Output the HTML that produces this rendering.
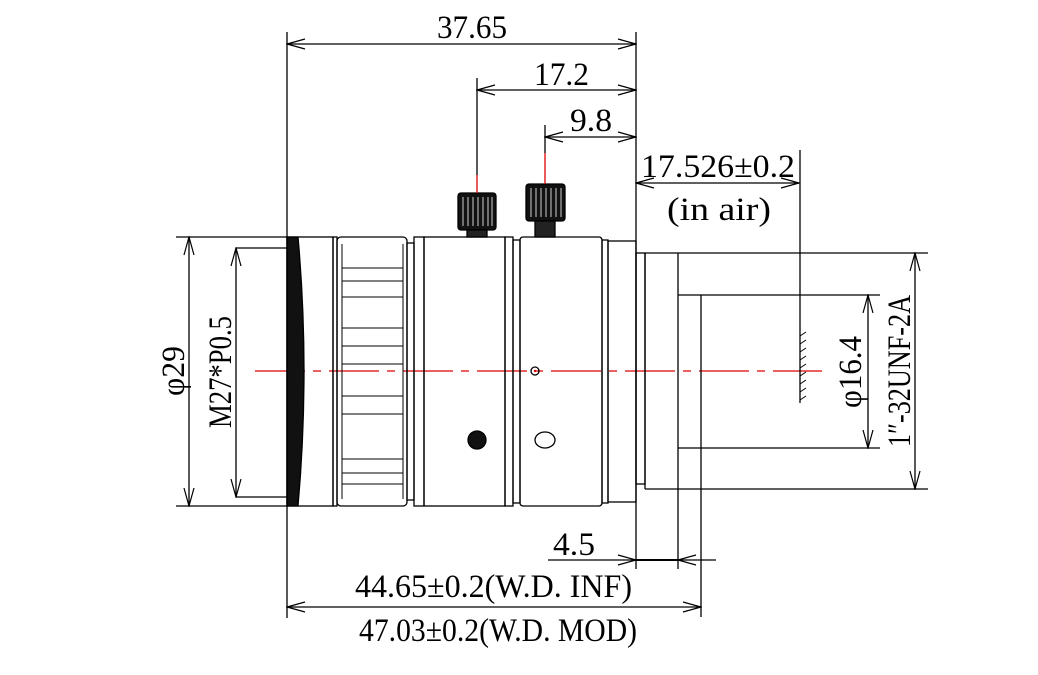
<!DOCTYPE html>
<html><head><meta charset="utf-8"><style>html,body{margin:0;padding:0;background:#fff}svg{display:block}</style></head>
<body>
<svg width="1038" height="675" viewBox="0 0 1038 675" xmlns="http://www.w3.org/2000/svg" font-family="'Liberation Serif', serif" fill="none" stroke="#000" stroke-width="1.3">
<defs>
<marker id="a" markerWidth="20" markerHeight="12" refX="19" refY="6" orient="auto-start-reverse" markerUnits="userSpaceOnUse"><path d="M1,1 L19,6 L1,11" fill="none" stroke="#000" stroke-width="1.2"/></marker>
</defs>
<!-- centerline -->
<line x1="255" y1="371" x2="822" y2="371" stroke="#d00" stroke-dasharray="50,8,8,8" stroke-width="1.2"/>
<!-- front lens -->
<rect x="287" y="237" width="46" height="269"/>
<path d="M287,237 L298,237 Q310,371 298,506 L287,506 Z" fill="#111" stroke="#000"/>
<line x1="287" y1="248" x2="236" y2="248"/>
<line x1="287" y1="497" x2="236" y2="497"/>
<!-- grip ring -->
<rect x="333" y="237" width="4" height="269"/>
<rect x="337" y="237" width="70" height="269" rx="4"/>
<g stroke-width="1">
<line x1="342" y1="244" x2="342" y2="499"/><line x1="403" y1="244" x2="403" y2="499"/>
<line x1="342" y1="268" x2="403" y2="268"/><line x1="342" y1="281" x2="403" y2="281"/>
<line x1="342" y1="297" x2="403" y2="297"/><line x1="342" y1="328" x2="403" y2="328"/>
<line x1="342" y1="346" x2="403" y2="346"/><line x1="342" y1="364" x2="403" y2="364"/>
<line x1="342" y1="396" x2="403" y2="396"/><line x1="342" y1="414" x2="403" y2="414"/>
<line x1="342" y1="459" x2="403" y2="459"/><line x1="342" y1="473" x2="403" y2="473"/>
<line x1="342" y1="484" x2="403" y2="484"/>
</g>
<rect x="407" y="243" width="7" height="257"/>
<rect x="414" y="237" width="10" height="269"/>
<rect x="424" y="237" width="81" height="269"/>
<rect x="505" y="237" width="8" height="269"/>
<rect x="513" y="240" width="7" height="263"/>
<rect x="520" y="237" width="82" height="269" rx="3"/>
<rect x="602" y="240" width="6" height="263"/>
<rect x="608" y="241" width="28" height="261"/>
<!-- knobs -->
<rect x="458" y="193" width="38" height="37" rx="3" fill="#111"/>
<g stroke="#fff" stroke-width="0.8"><line x1="463" y1="197" x2="463" y2="226"/><line x1="468" y1="197" x2="468" y2="226"/><line x1="473" y1="197" x2="473" y2="226"/><line x1="478" y1="197" x2="478" y2="226"/><line x1="483" y1="197" x2="483" y2="226"/><line x1="488" y1="197" x2="488" y2="226"/><line x1="492" y1="197" x2="492" y2="226"/></g>
<rect x="467" y="230" width="20" height="7" fill="#222"/>
<rect x="526" y="184" width="39" height="37" rx="3" fill="#111"/>
<g stroke="#fff" stroke-width="0.8"><line x1="531" y1="188" x2="531" y2="217"/><line x1="536" y1="188" x2="536" y2="217"/><line x1="541" y1="188" x2="541" y2="217"/><line x1="546" y1="188" x2="546" y2="217"/><line x1="551" y1="188" x2="551" y2="217"/><line x1="556" y1="188" x2="556" y2="217"/><line x1="561" y1="188" x2="561" y2="217"/></g>
<rect x="535" y="221" width="20" height="16" fill="#222"/>
<line x1="477" y1="78" x2="477" y2="175"/><line x1="477" y1="175" x2="477" y2="193" stroke="#d00"/>
<line x1="545" y1="125" x2="545" y2="153"/><line x1="545" y1="153" x2="545" y2="184" stroke="#d00"/>
<!-- holes -->
<circle cx="535" cy="371" r="4"/><circle cx="535" cy="371" r="1.2" fill="#d00" stroke="none"/>
<circle cx="477" cy="440" r="9" fill="#111"/>
<ellipse cx="545" cy="440" rx="10" ry="8"/>
<!-- rear mount -->
<rect x="636" y="253" width="9" height="231"/>
<line x1="645" y1="253" x2="645" y2="489"/>
<line x1="645" y1="253" x2="928" y2="253"/>
<line x1="645" y1="489" x2="928" y2="489"/>
<line x1="678" y1="253" x2="678" y2="569"/>
<line x1="678" y1="295" x2="880" y2="295"/>
<line x1="678" y1="448" x2="880" y2="448"/>
<line x1="701" y1="295" x2="701" y2="617"/>
<!-- image plane -->
<line x1="800" y1="150" x2="800" y2="403"/>
<g stroke-width="1"><line x1="800" y1="336" x2="806" y2="332"/><line x1="800" y1="344" x2="806" y2="340"/><line x1="800" y1="352" x2="806" y2="348"/><line x1="800" y1="360" x2="806" y2="356"/><line x1="800" y1="368" x2="806" y2="364"/><line x1="800" y1="376" x2="806" y2="372"/><line x1="800" y1="384" x2="806" y2="380"/><line x1="800" y1="392" x2="806" y2="388"/><line x1="800" y1="400" x2="806" y2="396"/></g>
<!-- dimension ext lines -->
<line x1="287" y1="32" x2="287" y2="618"/>
<line x1="636" y1="32" x2="636" y2="569"/>
<line x1="176" y1="237" x2="287" y2="237"/><line x1="176" y1="506" x2="287" y2="506"/>
<!-- dims -->
<line x1="287" y1="44" x2="636" y2="44" marker-start="url(#a)" marker-end="url(#a)"/>
<line x1="477" y1="90" x2="636" y2="90" marker-start="url(#a)" marker-end="url(#a)"/>
<line x1="545" y1="137" x2="636" y2="137" marker-start="url(#a)" marker-end="url(#a)"/>
<line x1="636" y1="183" x2="799" y2="183" marker-start="url(#a)" marker-end="url(#a)"/>
<line x1="189" y1="237" x2="189" y2="506" marker-start="url(#a)" marker-end="url(#a)"/>
<line x1="236" y1="248" x2="236" y2="497" marker-start="url(#a)" marker-end="url(#a)"/>
<line x1="868" y1="295" x2="868" y2="448" marker-start="url(#a)" marker-end="url(#a)"/>
<line x1="915" y1="253" x2="915" y2="489" marker-start="url(#a)" marker-end="url(#a)"/>
<line x1="548" y1="560" x2="636" y2="560" marker-end="url(#a)"/>
<line x1="636" y1="560" x2="678" y2="560" stroke-width="2"/>
<line x1="716" y1="560" x2="678" y2="560" marker-end="url(#a)"/>
<line x1="287" y1="607" x2="701" y2="607" marker-start="url(#a)" marker-end="url(#a)"/>
<!-- text -->
<g fill="#000" stroke="none" font-size="33">
<text x="437" y="38" textLength="70" lengthAdjust="spacingAndGlyphs">37.65</text>
<text x="534" y="85" textLength="55" lengthAdjust="spacingAndGlyphs">17.2</text>
<text x="570" y="131" textLength="42" lengthAdjust="spacingAndGlyphs">9.8</text>
<text x="641" y="177" textLength="154" lengthAdjust="spacingAndGlyphs">17.526±0.2</text>
<text x="667" y="220" textLength="104" lengthAdjust="spacingAndGlyphs">(in air)</text>
<text x="553" y="555" textLength="42" lengthAdjust="spacingAndGlyphs">4.5</text>
<text x="355" y="597" textLength="277" lengthAdjust="spacingAndGlyphs">44.65±0.2(W.D. INF)</text>
<text x="359" y="641" textLength="278" lengthAdjust="spacingAndGlyphs">47.03±0.2(W.D. MOD)</text>
<text transform="translate(184,396) rotate(-90)" textLength="50" lengthAdjust="spacingAndGlyphs">φ29</text>
<text transform="translate(231,428) rotate(-90)" textLength="112" lengthAdjust="spacingAndGlyphs">M27*P0.5</text>
<text transform="translate(861,408) rotate(-90)" textLength="72" lengthAdjust="spacingAndGlyphs">φ16.4</text>
<text transform="translate(910,447) rotate(-90)" textLength="152" lengthAdjust="spacingAndGlyphs">1″-32UNF-2A</text>
</g>
</svg>
</body></html>
